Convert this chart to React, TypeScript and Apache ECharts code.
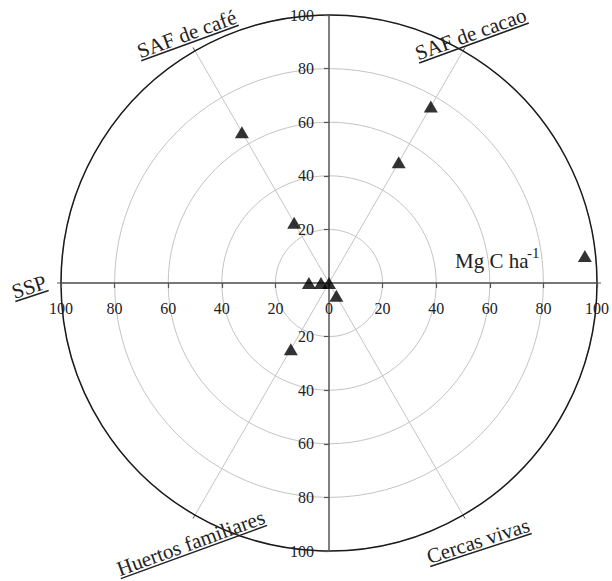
import React, { useEffect, useRef } from "react";
import * as echarts from "echarts";

// Category spokes (degrees, counter-clockwise from east)
const categories = ["SSP", "SAF de café", "SAF de cacao", "Huertos familiares", "Cercas vivas"];
const categoryAngles = [180, 120, 60, 240, 300];

// Values (Mg C ha-1) per category
const sspValues = [7.5, 3, 0];
const safCafeValues = [65, 26];
const safCacaoValues = [76, 52];
const huertosValues = [28.5];
const cercasValues = [5.5];
const categoryValues = [sspValues, safCafeValues, safCacaoValues, huertosValues, cercasValues];

// Lone point off the spokes: [radius, angle]
const extraPoints = [[96, 6]];

// Axis ticks
const radialMax = 100;
const radialStep = 20;

const SERIF = "Liberation Serif";

// label placement: [underline centre x, y, rotation deg]
const labelPlacement: Record<string, [number, number, number]> = {
  "SSP": [32, 296, 18],
  "SAF de café": [190, 43, 20],
  "SAF de cacao": [474, 43, 20],
  "Huertos familiares": [194, 552, 20],
  "Cercas vivas": [481, 550, 18],
};

function measure(text: string, size: number): number {
  const c = document.createElement("canvas").getContext("2d");
  if (!c) return text.length * size * 0.5;
  c.font = `${size}px ${SERIF}`;
  return c.measureText(text).width;
}

export default function App() {
  const ref = useRef<HTMLDivElement>(null);
  useEffect(() => {
    if (!ref.current) return;
    const chart = echarts.init(ref.current, null, { renderer: "svg" });

    const data: number[][] = [];
    categoryValues.forEach((vals, i) => {
      vals.forEach((v) => data.push([v, categoryAngles[i]]));
    });
    extraPoints.forEach((p) => data.push(p));

    const labelSize = 21;
    const labelGraphics = categories.map((name) => {
      const [x, y, rot] = labelPlacement[name];
      const w = measure(name, labelSize);
      return {
        type: "group",
        x,
        y,
        rotation: (rot * Math.PI) / 180,
        children: [
          {
            type: "text",
            x: 0,
            y: 1,
            style: {
              text: name,
              fontSize: labelSize,
              fontFamily: SERIF,
              fill: "#222",
              align: "center",
              verticalAlign: "bottom",
            },
          },
          {
            type: "line",
            shape: { x1: -w / 2, y1: 0, x2: w / 2, y2: 0 },
            style: { stroke: "#222", lineWidth: 1.5 },
          },
        ],
      };
    });

    const axisCommon = {
      type: "value",
      min: -radialMax,
      max: radialMax,
      interval: radialStep,
      offset: -268,
      splitLine: { show: false },
      axisLine: { show: true, onZero: false, lineStyle: { color: "#555", width: 1.5 } },
      axisTick: { show: true, length: 5, lineStyle: { color: "#555", width: 1.2 } },
    };

    chart.setOption({
      animation: false,
      polar: { center: [329, 283], radius: 268 },
      angleAxis: {
        type: "value",
        min: 0,
        max: 360,
        interval: 60,
        startAngle: 0,
        clockwise: false,
        axisLine: { show: true, lineStyle: { color: "#1a1a1a", width: 1.5 } },
        axisTick: { show: true, length: 4, lineStyle: { color: "#555" } },
        axisLabel: { show: false },
        splitLine: { show: true, lineStyle: { color: "#c4c4c4", width: 1 } },
      },
      radiusAxis: {
        type: "value",
        min: 0,
        max: radialMax,
        interval: radialStep,
        axisLine: { show: false },
        axisTick: { show: false },
        axisLabel: { show: false },
        splitLine: { show: true, lineStyle: { color: "#c4c4c4", width: 1 } },
      },
      grid: { left: 61, top: 15, width: 536, height: 536 },
      xAxis: {
        ...axisCommon,
        position: "bottom",
        axisLabel: {
          margin: 17,
          fontFamily: SERIF,
          fontSize: 16,
          color: "#222",
          showMinLabel: true,
          showMaxLabel: true,
          formatter: (v: number) => String(Math.abs(v)),
        },
      },
      yAxis: {
        ...axisCommon,
        position: "left",
        axisLabel: {
          margin: 15,
          fontFamily: SERIF,
          fontSize: 16,
          color: "#222",
          showMinLabel: true,
          showMaxLabel: true,
          formatter: (v: number) => (v === 0 ? "" : String(Math.abs(v))),
        },
      },
      series: [
        {
          type: "scatter",
          coordinateSystem: "polar",
          symbol: "triangle",
          symbolSize: [14, 12],
          itemStyle: { color: "#000" },
          z: 10,
          data,
        },
      ],
      graphic: [
        ...labelGraphics,
        {
          type: "text",
          x: 455,
          y: 261,
          style: {
            text: "Mg C ha",
            fontSize: 21,
            fontFamily: SERIF,
            fill: "#222",
            align: "left",
            verticalAlign: "middle",
          },
        },
        {
          type: "text",
          x: 527,
          y: 253,
          style: {
            text: "-1",
            fontSize: 15,
            fontFamily: SERIF,
            fill: "#222",
            align: "left",
            verticalAlign: "middle",
          },
        },
      ],
    });
    return () => chart.dispose();
  }, []);
  return (
    <div
      ref={ref}
      style={{ position: "absolute", left: 0, top: 0, width: 612, height: 581, background: "#fff" }}
    />
  );
}
